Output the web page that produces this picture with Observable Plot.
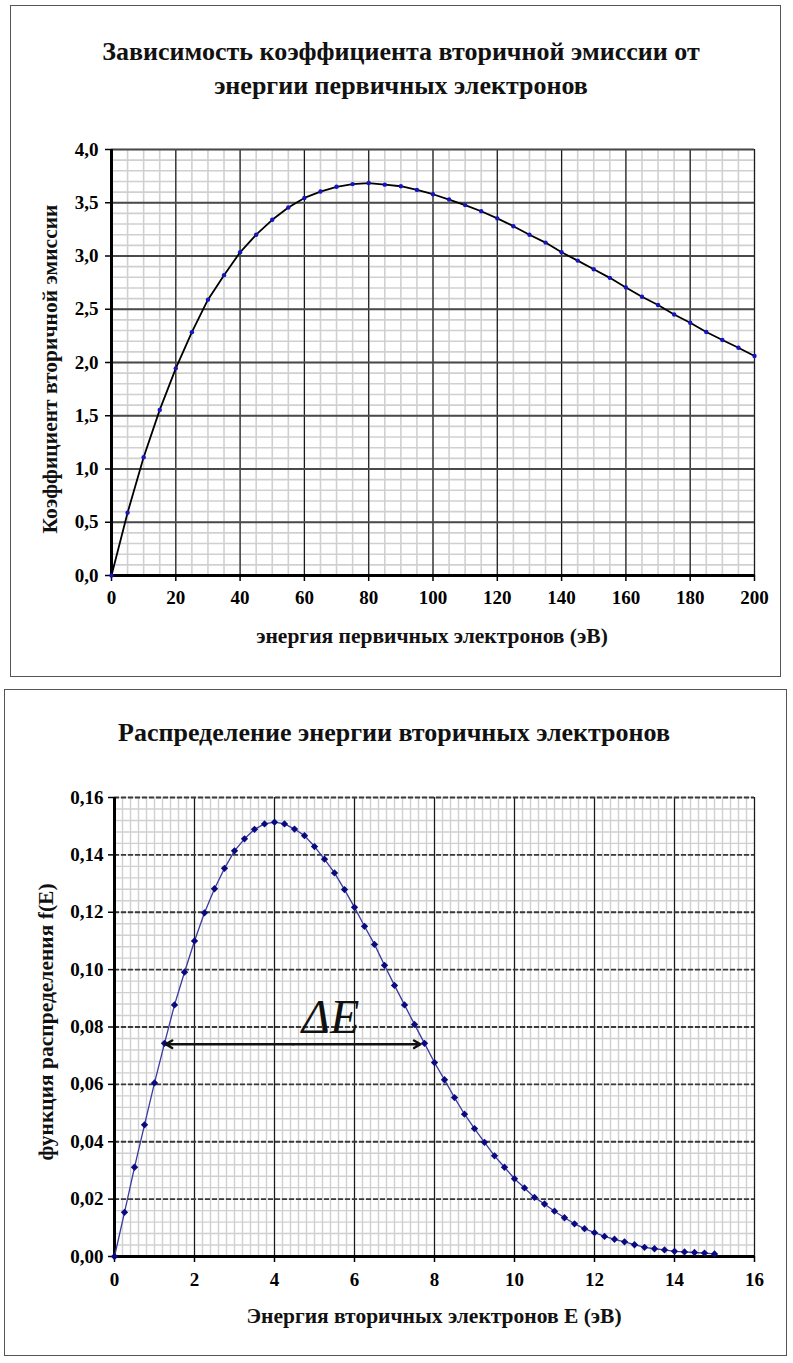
<!DOCTYPE html>
<html>
<head>
<meta charset="utf-8">
<script src="https://cdn.jsdelivr.net/npm/d3@7"></script>
<script src="https://cdn.jsdelivr.net/npm/@observablehq/plot@0.6"></script>
<style>
  html, body { margin: 0; padding: 0; background: #fff; }
  body { width: 793px; height: 1363px; position: relative; overflow: hidden;
         font-family: "Liberation Serif", "DejaVu Serif", serif; color: #111; }
  .frame { position: absolute; border: 1.5px solid #555; box-sizing: border-box; }
  .t { position: absolute; white-space: nowrap; font-weight: bold; transform: translate(-50%, -50%); }
  .title { font-size: 26px; }
  .lab { font-size: 21.5px; }
  .rot { transform: translate(-50%, -50%) rotate(-90deg); }
  .plotwrap { position: absolute; left: 0; }
  .plotwrap svg { display: block; }
  .plotwrap g[aria-label$="tick"] path { stroke-width: 1.5; }
</style>
</head>
<body>
<div class="frame" style="left:10px;top:5px;width:771px;height:672px;"></div>
<div class="frame" style="left:4px;top:689px;width:783px;height:667px;"></div>

<div id="p1" class="plotwrap" style="top:0px;"></div>
<div id="p2" class="plotwrap" style="top:682px;"></div>

<div class="t title" style="left:401px;top:52px;">Зависимость коэффициента вторичной эмиссии от</div>
<div class="t title" style="left:401px;top:86px;">энергии первичных электронов</div>
<div class="t lab" style="left:432px;top:636px;">энергия первичных электронов (эВ)</div>
<div class="t lab rot" style="left:50px;top:369px;">Коэффициент вторичной эмиссии</div>

<div class="t title" style="left:394px;top:733px;">Распределение энергии вторичных электронов</div>
<div class="t lab" style="left:434px;top:1316px;">Энергия вторичных электронов E (эВ)</div>
<div class="t lab rot" style="left:46px;top:1022px;">функция распределения  f(E)</div>

<script>
// ---------- Chart 1: secondary emission coefficient vs primary energy ----------
const energy1 = [0, 5, 10, 15, 20, 25, 30, 35, 40, 45, 50, 55, 60, 65, 70, 75, 80, 85, 90, 95, 100,
  105, 110, 115, 120, 125, 130, 135, 140, 145, 150, 155, 160, 165, 170, 175, 180, 185, 190, 195, 200];
const coeff1 = [0, 0.59, 1.11, 1.555, 1.945, 2.285, 2.59, 2.82, 3.035, 3.20, 3.34, 3.455, 3.545, 3.605,
  3.65, 3.675, 3.685, 3.67, 3.655, 3.62, 3.58, 3.53, 3.478, 3.42, 3.353, 3.28, 3.20, 3.126, 3.035, 2.957,
  2.876, 2.795, 2.705, 2.617, 2.54, 2.451, 2.373, 2.286, 2.211, 2.139, 2.061];
const xTicks1 = [0, 20, 40, 60, 80, 100, 120, 140, 160, 180, 200];
const yTicks1 = [0, 0.5, 1.0, 1.5, 2.0, 2.5, 3.0, 3.5, 4.0];
const xMinorStep1 = 5, yMinorStep1 = 0.1;

// ---------- Chart 2: energy distribution of secondary electrons ----------
const energy2 = [0, 0.25, 0.5, 0.75, 1, 1.25, 1.5, 1.75, 2, 2.25, 2.5, 2.75, 3, 3.25, 3.5, 3.75, 4,
  4.25, 4.5, 4.75, 5, 5.25, 5.5, 5.75, 6, 6.25, 6.5, 6.75, 7, 7.25, 7.5, 7.75, 8, 8.25, 8.5, 8.75, 9,
  9.25, 9.5, 9.75, 10, 10.25, 10.5, 10.75, 11, 11.25, 11.5, 11.75, 12, 12.25, 12.5, 12.75, 13, 13.25,
  13.5, 13.75, 14, 14.25, 14.5, 14.75, 15];
const fE2 = [0, 0.0154, 0.0311, 0.0459, 0.0605, 0.0743, 0.0877, 0.0991, 0.1100, 0.1198, 0.1282,
  0.1353, 0.1414, 0.1456, 0.1489, 0.1508, 0.1514, 0.1508, 0.1490, 0.1467, 0.1429, 0.1385, 0.1337,
  0.1279, 0.1217, 0.1151, 0.1088, 0.1015, 0.0945, 0.0877, 0.0809, 0.0743, 0.0676, 0.0616, 0.0554,
  0.0496, 0.0446, 0.0398, 0.0351, 0.0311, 0.0271, 0.0239, 0.0206, 0.0183, 0.0158, 0.0135, 0.0114,
  0.0097, 0.0083, 0.0070, 0.0060, 0.0051, 0.0041, 0.0032, 0.0027, 0.0023, 0.0018, 0.0016, 0.0014,
  0.0012, 0.0009];
const xTicks2 = [0, 2, 4, 6, 8, 10, 12, 14, 16];
const yTicks2 = [0, 0.02, 0.04, 0.06, 0.08, 0.10, 0.12, 0.14, 0.16];
const xMinorStep2 = 0.2, yMinorStep2 = 0.004;
// ΔE annotation: half-width range and label
const halfWidthE = [1.28, 7.65];
const halfWidthLevel = 0.074;
const deltaLabel = [{x: 5.4, y: 0.078, text: "ΔE"}];

// ---------- build ----------
const data1 = energy1.map((e, i) => ({e, k: coeff1[i]}));
const data2 = energy2.map((e, i) => ({e, f: fE2[i]}));
const steps = (lo, hi, st) => d3.range(0, Math.round((hi - lo) / st) + 1).map(i => +(lo + i * st).toFixed(6));

const serif = "'Liberation Serif', 'DejaVu Serif', serif";
const commonStyle = {fontFamily: serif, fontSize: "19px",
  fontWeight: "bold", background: "transparent", color: "#000", overflow: "visible"};

const plot1 = Plot.plot({
  width: 793, height: 680,
  marginLeft: 111, marginRight: 39, marginTop: 149, marginBottom: 105,
  style: commonStyle,
  x: {domain: [0, 200], ticks: xTicks1, tickSize: 6, tickPadding: 9, tickFormat: d => String(d), label: null},
  y: {domain: [0, 4], ticks: yTicks1, tickSize: 6, tickPadding: 7,
      tickFormat: d => d.toFixed(1).replace(".", ","), label: null},
  marks: [
    Plot.ruleX(steps(0, 200, xMinorStep1), {stroke: "#d0d0d0", strokeWidth: 1.6}),
    Plot.ruleY(steps(0, 4, yMinorStep1), {stroke: "#d0d0d0", strokeWidth: 1.6}),
    Plot.ruleX(xTicks1.filter(d => d > 0), {stroke: "#1a1a1a", strokeWidth: 1.2}),
    Plot.ruleY(yTicks1.filter(d => d > 0), {stroke: "#4a4a4a", strokeWidth: 2}),
    Plot.ruleX([0], {stroke: "#000", strokeWidth: 3}),
    Plot.ruleY([0], {stroke: "#000", strokeWidth: 3}),
    Plot.line(data1, {x: "e", y: "k", stroke: "#000", strokeWidth: 1.8}),
    Plot.dot(data1, {x: "e", y: "k", r: 2.2, fill: "#1616c0", stroke: "none"})
  ]
});
document.getElementById("p1").appendChild(plot1);

const midE = (halfWidthE[0] + halfWidthE[1]) / 2;
const arrowData = halfWidthE.map(e => ({x1: midE, x2: e, y: halfWidthLevel}));

const plot2 = Plot.plot({
  width: 793, height: 681,
  marginLeft: 114, marginRight: 39, marginTop: 115, marginBottom: 107,
  style: commonStyle,
  x: {domain: [0, 16], ticks: xTicks2, tickSize: 6, tickPadding: 10, tickFormat: d => String(d), label: null},
  y: {domain: [0, 0.16], ticks: yTicks2, tickSize: 6, tickPadding: 5,
      tickFormat: d => d.toFixed(2).replace(".", ","), label: null},
  marks: [
    Plot.ruleX(steps(0, 16, xMinorStep2), {stroke: "#d0d0d0", strokeWidth: 1.4}),
    Plot.ruleY(steps(0, 0.16, yMinorStep2), {stroke: "#d0d0d0", strokeWidth: 1.4}),
    Plot.ruleX(xTicks2.filter(d => d > 0), {stroke: "#1a1a1a", strokeWidth: 1.2}),
    Plot.ruleY(yTicks2.filter(d => d > 0), {stroke: "#3a3a3a", strokeWidth: 1.8, strokeDasharray: "5,2"}),
    Plot.ruleX([0], {stroke: "#000", strokeWidth: 3}),
    Plot.ruleY([0], {stroke: "#000", strokeWidth: 3}),
    Plot.line(data2, {x: "e", y: "f", stroke: "#3a3aa0", strokeWidth: 1.3}),
    Plot.dot(data2, {x: "e", y: "f", r: 3.3, symbol: "diamond2", fill: "#0a0a80", stroke: "none"}),
    Plot.arrow(arrowData, {x1: "x1", x2: "x2", y1: "y", y2: "y", stroke: "#111", strokeWidth: 2.5,
      headLength: 4.5, bend: 0}),
    Plot.text(deltaLabel, {x: "x", y: "y", text: "text", fontSize: 48, fontStyle: "italic",
      fontWeight: "normal", fill: "#111", lineAnchor: "bottom", textAnchor: "middle",
      fontFamily: serif})
  ]
});
document.getElementById("p2").appendChild(plot2);
</script>
</body>
</html>
